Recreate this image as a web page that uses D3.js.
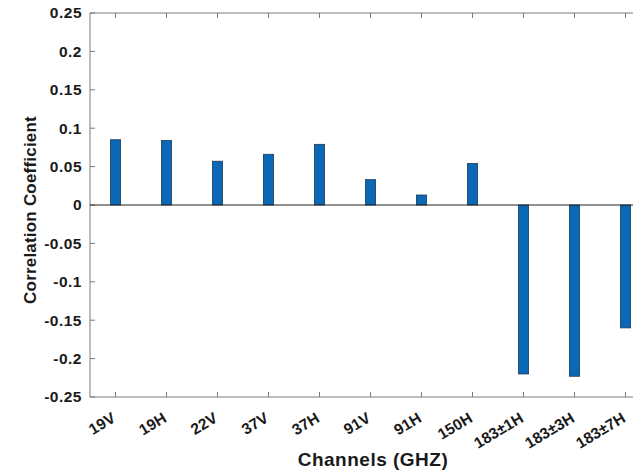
<!DOCTYPE html>
<html>
<head>
<meta charset="utf-8">
<script src="https://cdn.jsdelivr.net/npm/d3@7"></script>
<style>
  body { margin: 0; background: #fff; }
  text { font-family: "Liberation Sans", Arial, sans-serif; font-weight: bold; fill: #1a1a1a; }
</style>
</head>
<body>
<div id="chart"></div>
<script>
// channels and correlation coefficients
const channels = ['19V', '19H', '22V', '37V', '37H', '91V', '91H', '150H', '183\u00b11H', '183\u00b13H', '183\u00b17H'];
const coefficients = [0.085, 0.084, 0.057, 0.066, 0.079, 0.033, 0.013, 0.054, -0.220, -0.223, -0.160];
const yTicks = [-0.25, -0.2, -0.15, -0.1, -0.05, 0, 0.05, 0.1, 0.15, 0.2, 0.25];

const width = 633, height = 471;
const margin = { top: 13, left: 90, bottom: 74 };
// the plot box runs past the right edge of the picture (cropped)
const plotRight = 651;

const svg = d3.select('#chart').append('svg')
    .attr('width', width)
    .attr('height', height);

const x = d3.scalePoint()
    .domain(channels)
    .range([margin.left, plotRight])
    .padding(0.5);

const y = d3.scaleLinear()
    .domain([-0.25, 0.25])
    .range([height - margin.bottom, margin.top]);

const barW = x.step() * 0.2;
const axisColor = '#7a7a7a';
const fmt = d => String(d);   // plain hyphen minus, like the original

// box lines
svg.append('line')
    .attr('x1', margin.left).attr('x2', plotRight)
    .attr('y1', y(0.25)).attr('y2', y(0.25))
    .attr('stroke', axisColor);
svg.append('line')
    .attr('x1', margin.left).attr('x2', plotRight)
    .attr('y1', y(-0.25)).attr('y2', y(-0.25))
    .attr('stroke', axisColor);
svg.append('line')
    .attr('x1', margin.left).attr('x2', margin.left)
    .attr('y1', y(0.25)).attr('y2', y(-0.25))
    .attr('stroke', axisColor);

// y ticks (inward) and labels
svg.selectAll('.ytick')
    .data(yTicks)
  .enter().append('line')
    .attr('x1', margin.left).attr('x2', margin.left + 5)
    .attr('y1', d => y(d)).attr('y2', d => y(d))
    .attr('stroke', axisColor);

svg.selectAll('.ylab')
    .data(yTicks)
  .enter().append('text')
    .attr('x', margin.left - 8)
    .attr('y', d => y(d))
    .attr('dy', '0.35em')
    .attr('text-anchor', 'end')
    .style('font-size', '15.5px')
    .style('letter-spacing', '0.5px')
    .text(fmt);

// x ticks top and bottom (inward)
svg.selectAll('.xtickb')
    .data(channels)
  .enter().append('line')
    .attr('x1', d => x(d)).attr('x2', d => x(d))
    .attr('y1', y(-0.25)).attr('y2', y(-0.25) - 5)
    .attr('stroke', axisColor);
svg.selectAll('.xtickt')
    .data(channels)
  .enter().append('line')
    .attr('x1', d => x(d)).attr('x2', d => x(d))
    .attr('y1', y(0.25)).attr('y2', y(0.25) + 5)
    .attr('stroke', axisColor);

svg.selectAll('.xlab')
    .data(channels)
  .enter().append('text')
    .attr('transform', d => `translate(${x(d) + 1},${y(-0.25) + 24}) rotate(-31)`)
    .attr('text-anchor', 'end')
    .style('font-size', '15.5px')
    .text(d => d);

// bars
svg.selectAll('.bar')
    .data(coefficients)
  .enter().append('rect')
    .attr('x', (d, i) => x(channels[i]) - barW / 2)
    .attr('y', d => y(Math.max(0, d)))
    .attr('width', barW)
    .attr('height', d => Math.abs(y(d) - y(0)))
    .attr('fill', '#0a68b6')
    .attr('stroke', '#1d3a58')
    .attr('stroke-width', 0.8);

// baseline
svg.append('line')
    .attr('x1', margin.left).attr('x2', plotRight)
    .attr('y1', y(0)).attr('y2', y(0))
    .attr('stroke', '#222');

// axis titles
svg.append('text')
    .attr('transform', `translate(36,${y(0) + 5}) rotate(-90)`)
    .attr('text-anchor', 'middle')
    .style('font-size', '17px')
    .style('letter-spacing', '0.2px')
    .text('Correlation Coefficient');

svg.append('text')
    .attr('x', 373)
    .attr('y', 466)
    .attr('text-anchor', 'middle')
    .style('font-size', '19px')
    .style('letter-spacing', '0.5px')
    .text('Channels (GHZ)');
</script>
</body>
</html>
